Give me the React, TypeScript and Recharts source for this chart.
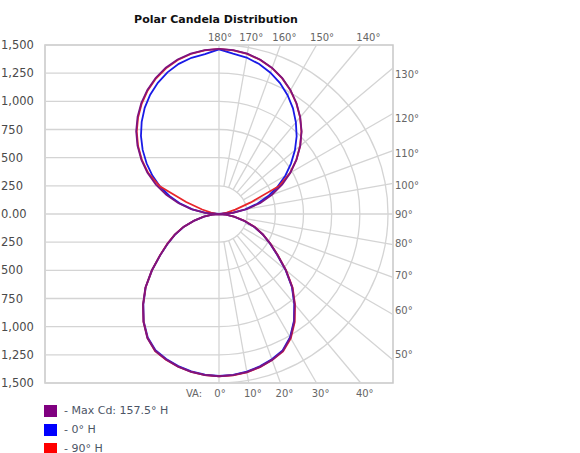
import React from 'react'
import { ScatterChart, Scatter, XAxis, YAxis, ReferenceLine, ReferenceArea, ReferenceDot, Legend } from 'recharts'

// vertical angles (VA) in degrees, 0 = straight down, 180 = straight up
const verticalAngles = [
  0, 5, 10, 15, 20, 25, 30, 35, 40, 45, 50, 55, 60, 65, 70, 75, 80, 85, 90,
  95, 100, 105, 110, 115, 120, 125, 130, 135, 140, 145, 150, 155, 160, 165, 170, 175, 180,
]

// candela values, right half / left half of each plane
const maxCdRight = [
  1440, 1436, 1425, 1405, 1378, 1342, 1268, 1165, 1045, 920, 775, 635, 525, 430, 335, 232, 140, 65, 0,
  128, 255, 380, 500, 620, 732, 840, 942, 1037, 1122, 1200, 1270, 1330, 1380, 1418, 1445, 1460, 1465,
]
const maxCdLeft = [
  1440, 1435, 1422, 1402, 1375, 1340, 1272, 1170, 1050, 925, 780, 640, 528, 432, 334, 228, 138, 62, 0,
  125, 250, 375, 498, 618, 735, 842, 945, 1040, 1125, 1203, 1272, 1332, 1382, 1420, 1446, 1461, 1465,
]
const h0Right = [
  1438, 1433, 1420, 1400, 1372, 1336, 1262, 1160, 1040, 915, 770, 630, 522, 428, 332, 225, 135, 60, 0,
  118, 237, 352, 465, 575, 680, 780, 880, 975, 1062, 1145, 1218, 1282, 1335, 1378, 1410, 1428, 1462,
]
const h0Left = [
  1438, 1432, 1418, 1398, 1370, 1334, 1265, 1165, 1045, 920, 775, 636, 525, 430, 333, 226, 136, 61, 0,
  120, 240, 355, 468, 578, 683, 785, 885, 980, 1068, 1150, 1222, 1285, 1338, 1380, 1408, 1425, 1462,
]
const h90Right = [
  1440, 1437, 1427, 1408, 1380, 1346, 1275, 1172, 1050, 925, 778, 638, 528, 432, 338, 234, 142, 66, 0,
  30, 70, 150, 300, 590, 728, 838, 940, 1035, 1120, 1198, 1268, 1328, 1378, 1416, 1443, 1458, 1465,
]
const h90Left = [
  1440, 1436, 1424, 1404, 1377, 1342, 1270, 1168, 1048, 922, 778, 640, 530, 434, 336, 230, 140, 64, 0,
  30, 72, 155, 310, 580, 725, 836, 938, 1033, 1118, 1196, 1266, 1326, 1376, 1415, 1442, 1458, 1465,
]

const yTicks = [1500, 1250, 1000, 750, 500, 250, 0, -250, -500, -750, -1000, -1250, -1500]
const ringValues = [250, 500, 750, 1000, 1250, 1500]
const rayAngles = [10, 20, 30, 40, 50, 60, 70, 80, 90, 100, 110, 120, 130, 140, 150, 160, 170]
const labelAngles = [0, 10, 20, 30, 40, 50, 60, 70, 80, 90, 100, 110, 120, 130, 140, 150, 160, 170, 180]

const legendItems = [
  { label: '- Max Cd: 157.5° H', color: '#800080' },
  { label: '- 0° H', color: '#0000ff' },
  { label: '- 90° H', color: '#ff0000' },
]

const X_MAX = 1545
const Y_MAX = 1500
const CHART_W = 580
const CHART_H = 453
const MARGIN = { top: 45, right: 187, bottom: 70, left: 0 }
const PX_PER_CD = (CHART_H - MARGIN.top - MARGIN.bottom) / (2 * Y_MAX)
const GRID = '#d4d4d4'

const rad = (d: number) => (d * Math.PI) / 180

function toPoints(right: number[], left: number[]) {
  const r = verticalAngles.map((a, i) => ({ x: right[i] * Math.sin(rad(a)), y: -right[i] * Math.cos(rad(a)) }))
  const l = verticalAngles
    .map((a, i) => ({ x: -left[i] * Math.sin(rad(a)), y: -left[i] * Math.cos(rad(a)) }))
    .reverse()
  return [...r, ...l]
}

// where a ray from the centre meets the plot border
function rayEnd(a: number) {
  const s = Math.sin(rad(a))
  const c = Math.cos(rad(a))
  const tx = s > 1e-9 ? X_MAX / s : Infinity
  const ty = Math.abs(c) > 1e-9 ? Y_MAX / Math.abs(c) : Infinity
  const t = Math.min(tx, ty)
  return { x: t * s, y: -t * c, side: ty <= tx ? (c < 0 ? 'top' : 'bottom') : 'right' }
}

// anchor point for the angle label of a ray
function labelPoint(a: number) {
  const e = rayEnd(a)
  if (e.side === 'top') {
    const yTop = Y_MAX + 70
    return { x: yTop * Math.tan(rad(180 - a)), y: yTop, side: e.side }
  }
  if (e.side === 'right') return { x: e.x, y: e.y * 0.96, side: e.side }
  return e
}

const fmtTick = (v: number) => (v === 0 ? '0.00' : Math.abs(v).toLocaleString('en-US'))

function YTick(props: any) {
  const { y, payload } = props
  return (
    <text x={1} y={y} dy={4} textAnchor="start" fontSize={11.5} fill="#4a4a4a">
      {fmtTick(payload.value)}
    </text>
  )
}

function Rings(props: any) {
  const { cx, cy } = props
  return (
    <g>
      {ringValues.map((v) => {
        const r = v * PX_PER_CD
        return (
          <path key={v} d={`M${cx},${cy - r} A${r},${r} 0 0 1 ${cx},${cy + r}`} fill="none" stroke={GRID} strokeWidth={1.3} />
        )
      })}
    </g>
  )
}

function angleShape(a: number, side: string) {
  return (props: any) => {
    const { cx, cy } = props
    const txt = `${a}°`
    const common = { fontSize: 10, fill: '#666' }
    if (side === 'top') return <text x={cx + 1} y={cy + 4} textAnchor="middle" {...common}>{txt}</text>
    if (side === 'bottom')
      return (
        <g>
          {a === 0 && <text x={cx - 25} y={cy + 14} textAnchor="middle" {...common}>VA:</text>}
          <text x={cx + (a === 0 ? 1 : 4)} y={cy + 14} textAnchor="middle" {...common}>{txt}</text>
        </g>
      )
    return <text x={cx + 2} y={cy + 4} textAnchor="start" {...common}>{txt}</text>
  }
}

function LegendBox() {
  return (
    <div style={{ fontSize: 11, color: '#4c5566', lineHeight: '12px' }}>
      {legendItems.map((it) => (
        <div key={it.label} style={{ display: 'flex', alignItems: 'center', height: 19 }}>
          <span style={{ display: 'inline-block', width: 13, height: 12, background: it.color }} />
          <span style={{ marginLeft: 7 }}>{it.label}</span>
        </div>
      ))}
    </div>
  )
}

export default function App() {
  const purple = toPoints(maxCdRight, maxCdLeft)
  const blue = toPoints(h0Right, h0Left)
  const red = toPoints(h90Right, h90Left)

  return (
    <div
      style={{
        position: 'absolute', left: 0, top: 0, width: CHART_W, height: CHART_H,
        background: '#fff', fontFamily: '"DejaVu Sans", sans-serif',
      }}
    >
      <div
        style={{
          position: 'absolute', left: 0, top: 13, width: 432, textAlign: 'center',
          fontSize: 11, fontWeight: 'bold', color: '#111', lineHeight: '13px',
        }}
      >
        Polar Candela Distribution
      </div>
      <ScatterChart width={CHART_W} height={CHART_H} margin={MARGIN}>
        <XAxis type="number" dataKey="x" domain={[-X_MAX, X_MAX]} hide allowDataOverflow />
        <YAxis
          type="number"
          dataKey="y"
          domain={[-Y_MAX, Y_MAX]}
          ticks={yTicks}
          width={45}
          axisLine={false}
          tickLine={false}
          tick={<YTick />}
          interval={0}
          allowDataOverflow
        />
        <ReferenceArea x1={-X_MAX} x2={X_MAX} y1={-Y_MAX} y2={Y_MAX} fill="none" stroke="#c8c8c8" strokeWidth={1.5} />
        {yTicks.map((t) => (
          <ReferenceLine key={`h${t}`} segment={[{ x: -X_MAX, y: t }, { x: 0, y: t }]} stroke={GRID} strokeWidth={1.3} />
        ))}
        <ReferenceLine x={0} stroke={GRID} strokeWidth={1.3} />
        {rayAngles.map((a) => {
          const e = rayEnd(a)
          return (
            <ReferenceLine
              key={`r${a}`}
              segment={[{ x: 250 * Math.sin(rad(a)), y: -250 * Math.cos(rad(a)) }, { x: e.x, y: e.y }]}
              stroke={GRID}
              strokeWidth={1.3}
            />
          )
        })}
        <ReferenceDot x={0} y={0} r={0} ifOverflow="visible" shape={Rings} />
        {labelAngles.map((a) => {
          const p = labelPoint(a)
          return <ReferenceDot key={`l${a}`} x={p.x} y={p.y} r={0} ifOverflow="visible" shape={angleShape(a, p.side)} />
        })}
        <Scatter data={blue} line={{ stroke: '#1a1ae6', strokeWidth: 1.8 }} lineType="joint" shape={() => <g />} isAnimationActive={false} />
        <Scatter data={red} line={{ stroke: '#e8262a', strokeWidth: 1.8 }} lineType="joint" shape={() => <g />} isAnimationActive={false} />
        <Scatter data={purple} line={{ stroke: '#7d1480', strokeWidth: 1.8 }} lineType="joint" shape={() => <g />} isAnimationActive={false} />
        <Legend
          layout="vertical"
          align="center"
          verticalAlign="middle"
          wrapperStyle={{ left: 44, top: 401, width: 220, height: 57 }}
          content={() => <LegendBox />}
        />
      </ScatterChart>
    </div>
  )
}
